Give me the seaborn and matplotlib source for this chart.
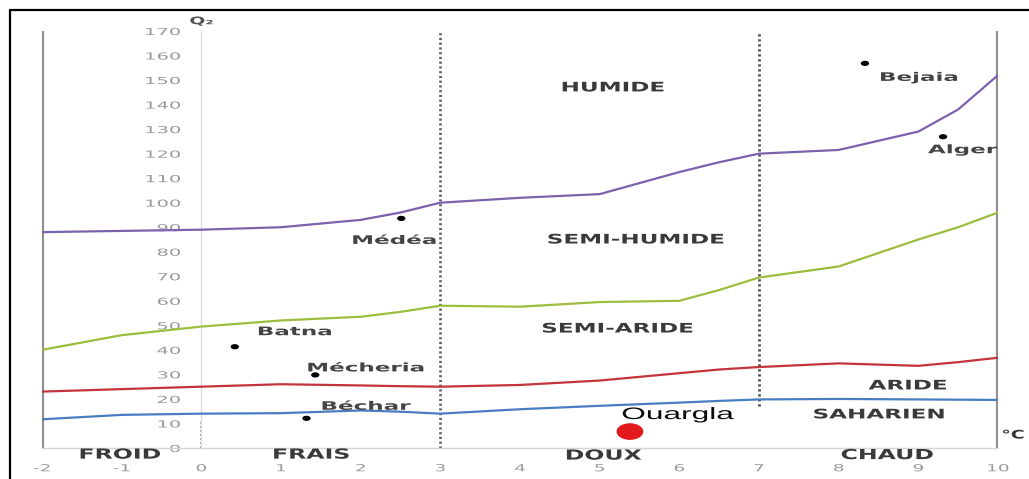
import matplotlib
matplotlib.use("Agg")
import matplotlib.pyplot as plt
import pandas as pd
import seaborn as sns
from matplotlib.patheffects import AbstractPathEffect
from matplotlib.transforms import Affine2D
from matplotlib.path import Path
from matplotlib.lines import Line2D

# --- Emberger climagram: bioclimatic limits (Q2 as a function of m, °C) ---
m_grid = [-2, -1, 0, 1, 2, 2.5, 3, 4, 5, 6, 6.5, 7, 8, 9, 9.5, 10]
lim_humide = [88, 88.5, 89, 90, 93, 96, 100, 102, 103.5, 112.5, 116.5, 120, 121.5, 129, 138, 152]
lim_semi_humide = [40, 46, 49.5, 52, 53.5, 55.5, 58, 57.6, 59.5, 60, 64.4, 69.5, 74, 85, 90, 96]
lim_semi_aride = [23, 24, 25, 26, 25.5, 25.2, 25, 25.7, 27.5, 30.5, 32, 33, 34.5, 33.5, 35, 36.8]
lim_aride = [11.7, 13.5, 14, 14.2, 15.3, 14.8, 14, 15.8, 17.2, 18.5, 19.2, 19.8, 20, 19.8, 19.7, 19.6]

# --- Stations ---
station_names = ["Bejaia", "Alger", "Médéa", "Batna", "Mécheria", "Béchar"]
station_m = [8.33, 9.31, 2.51, 0.42, 1.43, 1.32]
station_q2 = [156.8, 126.9, 93.6, 41.3, 29.8, 12.1]

focus_name = "Ouargla"
focus_m = [5.38]
focus_q2 = [6.7]

x_ticks = list(range(-2, 11))
y_ticks = list(range(0, 171, 10))


class Widen(AbstractPathEffect):
    """Draw text glyphs stretched horizontally around an anchor edge."""

    def __init__(self, sx, anchor="center"):
        super().__init__()
        self.sx = sx
        self.anchor = anchor

    def draw_path(self, renderer, gc, tpath, affine, rgbFace=None):
        ext = tpath.transformed(affine).get_extents()
        if self.anchor == "left":
            x0 = ext.x0
        elif self.anchor == "right":
            x0 = ext.x1
        else:
            x0 = 0.5 * (ext.x0 + ext.x1)
        stretch = Affine2D().translate(-x0, 0).scale(self.sx, 1).translate(x0, 0)
        renderer.draw_path(gc, tpath, affine + stretch, rgbFace)


sns.set_theme(style="white")
plt.rcParams["font.family"] = ["DejaVu Sans"]
plt.rcParams["axes.unicode_minus"] = False

W, H = 1029, 479
fig = plt.figure(figsize=(W / 100, H / 100), dpi=100)
fig.patch.set_facecolor("white")
ax = fig.add_axes([42 / W, (H - 448) / H, (998 - 42) / W, (448 - 31) / H])
ax.set_facecolor("white")
ax.set_xlim(-2, 10)
ax.set_ylim(0, 170)

# axes styling: y axis crosses at m = 0
for side in ("top", "right"):
    ax.spines[side].set_visible(False)
ax.spines["left"].set_position(("data", 0))
ax.spines["left"].set_color("#dcdcdc")
ax.spines["bottom"].set_color("#d6d6d6")
ax.spines["left"].set_linewidth(1.0)
ax.spines["bottom"].set_linewidth(1.0)
ax.set_xticks(x_ticks)
ax.set_yticks(y_ticks)
ax.tick_params(axis="y", direction="out", length=3, width=0.8, color="#c8c8c8",
               labelsize=7, labelcolor="#9a9a9a", pad=12)
ax.tick_params(axis="x", length=0, labelsize=7, labelcolor="#9a9a9a", pad=11)
ax.grid(False)

# boundary verticals
ax.axvline(-2, color="#8e8e8e", lw=3.0, zorder=1)
ax.axvline(10, color="#8e8e8e", lw=3.0, zorder=1)
ax.plot([3, 3], [0, 170], color="#5c5c5c", lw=1.9, ls=(0, (0.8, 1.0)), zorder=2)
ax.plot([7, 7], [17, 170], color="#4e4e4e", lw=2.0, ls=(0, (0.8, 1.0)), zorder=2)
ax.plot([0, 0], [0, 11], color="#8a8a8a", lw=1.4, ls=(0, (0.8, 1.3)), zorder=2)

# bioclimatic limit curves
limits = pd.DataFrame({
    "m": m_grid,
    "humide": lim_humide,
    "semi_humide": lim_semi_humide,
    "semi_aride": lim_semi_aride,
    "aride": lim_aride,
})
curve_colors = {
    "humide": "#7b62ad",
    "semi_humide": "#9cbd3e",
    "semi_aride": "#c4343b",
    "aride": "#4a7cc0",
}
for col, colr in curve_colors.items():
    sns.lineplot(data=limits, x="m", y=col, color=colr, lw=1.6, ax=ax, zorder=3)

# stations
ellipse = Path.unit_circle().transformed(Affine2D().scale(1.6, 1.0))
stations = pd.DataFrame({"name": station_names, "m": station_m, "Q2": station_q2})
sns.scatterplot(data=stations, x="m", y="Q2", marker=ellipse, s=36, color="black",
                edgecolor="none", ax=ax, zorder=5)
focus = pd.DataFrame({"name": [focus_name], "m": focus_m, "Q2": focus_q2})
sns.scatterplot(data=focus, x="m", y="Q2", marker=ellipse, s=370, color="#e3191d",
                edgecolor="none", ax=ax, zorder=5)
ax.set_xlabel("")
ax.set_ylabel("")

label_offsets = {
    "Bejaia": (15, -14, "left"),
    "Alger": (-15, -13, "left"),
    "Médéa": (-7, -22, "center"),
    "Batna": (23, 15, "left"),
    "Mécheria": (-8, 7, "left"),
    "Béchar": (15, 12, "left"),
}
for name, mx, qy in zip(station_names, station_m, station_q2):
    dx, dy, ha = label_offsets[name]
    t = ax.annotate(name, (mx, qy), xytext=(dx, dy), textcoords="offset pixels",
                    ha=ha, va="center", fontsize=8.5, fontweight="bold",
                    color="#444444", zorder=6)
    t.set_path_effects([Widen(1.95, ha)])

t = ax.annotate(focus_name, (focus_m[0], focus_q2[0]), xytext=(-8, 17),
                textcoords="offset pixels", ha="left", va="center", fontsize=12,
                family="Liberation Sans", color="#0a0a0a", zorder=6)
t.set_path_effects([Widen(1.9, "left")])

# zone names
zone_labels = [
    ("HUMIDE", 5.17, 146.8),
    ("SEMI-HUMIDE", 5.46, 84.8),
    ("SEMI-ARIDE", 5.23, 48.5),
    ("ARIDE", 8.87, 25.3),
    ("SAHARIEN", 8.51, 13.5),
]
for txt, xm, yq in zone_labels:
    t = ax.text(xm, yq, txt, ha="center", va="center", fontsize=9.5,
                fontweight="bold", color="#3a3a3a", zorder=6)
    t.set_path_effects([Widen(1.75, "center")])

# winter-temperature classes along the m axis
winter_labels = [
    ("FROID", -1.02, -2.7),
    ("FRAIS", 1.38, -2.7),
    ("DOUX", 5.05, -3.1),
    ("CHAUD", 8.61, -2.9),
]
for txt, xm, yq in winter_labels:
    t = ax.text(xm, yq, txt, ha="center", va="center", fontsize=10,
                fontweight="bold", color="#3a3a3a", zorder=6, clip_on=False)
    t.set_path_effects([Widen(1.7, "center")])

t = ax.text(0.0, 174, "Q₂", ha="center", va="center", fontsize=7.5,
            fontweight="bold", color="#555555", clip_on=False)
t.set_path_effects([Widen(1.8, "center")])
t = ax.text(10.05, 5.3, "°C", ha="left", va="center", fontsize=8.5,
            fontweight="bold", color="#333333", clip_on=False)
t.set_path_effects([Widen(1.6, "left")])

for lab in ax.get_yticklabels():
    lab.set_path_effects([Widen(2.0, "right")])
for lab in ax.get_xticklabels():
    lab.set_path_effects([Widen(1.9, "center")])

# outer frame (left and top edges)
fig.add_artist(Line2D([10 / W, 10 / W], [0, 1 - 10 / H], transform=fig.transFigure,
                      color="black", lw=1.6))
fig.add_artist(Line2D([10 / W, 1], [1 - 10 / H, 1 - 10 / H], transform=fig.transFigure,
                      color="black", lw=1.6))

fig.savefig("out.png", dpi=100, facecolor="white")
